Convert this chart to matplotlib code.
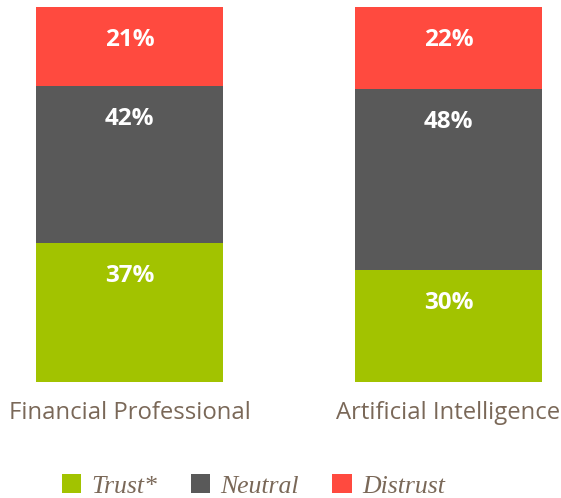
import matplotlib
matplotlib.use('Agg')
import matplotlib.pyplot as plt
from matplotlib.patches import Patch
import numpy as np

categories = ['Financial Professional', 'Artificial Intelligence']
series = ['Trust*', 'Neutral', 'Distrust']
trust = [37, 30]
neutral = [42, 48]
distrust = [21, 22]
colors = ['#a2c300', '#595959', '#ff4a3f']
text_color = '#7a6858'

fig = plt.figure(figsize=(5.61, 4.98), dpi=100)
ax = fig.add_axes([0, 116 / 498, 1, 375 / 498])

x = np.arange(len(categories))
width = 187 / 319
values = [trust, neutral, distrust]
bottom = np.zeros(len(categories))
for vals, col in zip(values, colors):
    ax.bar(x, vals, width, bottom=bottom, color=col, linewidth=0)
    for xi, b, v in zip(x, bottom, vals):
        top = b + v
        ax.text(xi, top - 8.8, f'{v}%', ha='center', va='center', color='white',
                fontsize=17.5, fontweight='bold', family='Open Sans')
    bottom = bottom + np.array(vals)

ax.set_xlim(-129.5 / 319, 1 + (561 - 448.5) / 319)
ax.set_ylim(0, 100)
ax.axis('off')

for xi, cat in zip(x, categories):
    ax.text(xi, -8.2, cat, ha='center', va='center', color=text_color,
            fontsize=17.2, family='Open Sans')

handles = [Patch(facecolor=c, edgecolor='none') for c in colors]
leg = fig.legend(handles, series, loc='center', bbox_to_anchor=(0.452, 1 - 486 / 498),
                 ncol=3, frameon=False, handlelength=0.75, handleheight=0.75,
                 handletextpad=0.4, columnspacing=1.3,
                 prop={'family': 'Liberation Serif', 'style': 'italic', 'size': 18.5})
for t in leg.get_texts():
    t.set_color(text_color)

fig.savefig('out.png', dpi=100)
